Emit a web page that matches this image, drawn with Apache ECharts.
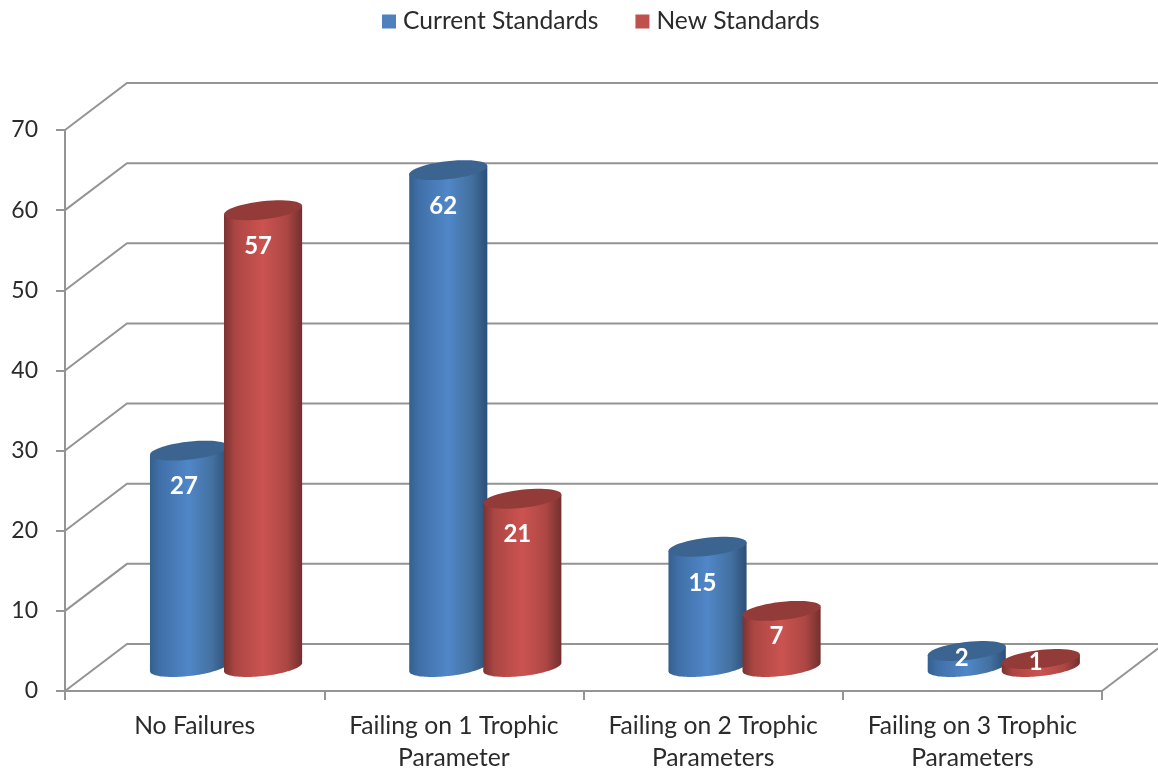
<!DOCTYPE html>
<html>
<head>
<meta charset="utf-8">
<style>html,body{margin:0;padding:0;background:#fff}#chart{width:1158px;height:768px}</style>
<script src="https://cdn.jsdelivr.net/npm/echarts@6/dist/echarts.min.js"></script>
</head>
<body>
<div id="chart"></div>
<script>
// Trophic parameter failures under the current and the new standards.
const categories = [
  'No Failures',
  'Failing on 1 Trophic\nParameter',
  'Failing on 2 Trophic\nParameters',
  'Failing on 3 Trophic\nParameters'
];
const currentStandards = [27, 62, 15, 2];
const newStandards = [57, 21, 7, 1];
const valueTicks = [0, 10, 20, 30, 40, 50, 60, 70];

const FONT = 'Lato, "Open Sans", sans-serif';
const TEXT = '#2b2b2b';
const WALL = '#949494';

// Oblique projection of the chart box.
const WALL_DX = 62, WALL_DY = -47;
const BAR_DY = -24;

// Cylinder footprint: a slightly tilted ellipse.
const RX = 39.3, RY = 9, TILT = -6.5 * Math.PI / 180;

function ellipsePoint(cx, cy, t) {
  const ex = RX * Math.cos(t), ey = RY * Math.sin(t);
  return [cx + ex * Math.cos(TILT) - ey * Math.sin(TILT),
          cy + ex * Math.sin(TILT) + ey * Math.cos(TILT)];
}

function ellipseArc(cx, cy, from, to) {
  const pts = [];
  for (let i = 0; i <= 48; i++) pts.push(ellipsePoint(cx, cy, from + (to - from) * i / 48));
  return pts;
}

function shaded(stops) {
  return new echarts.graphic.LinearGradient(0, 0, 1, 0,
    stops.map(s => ({ offset: s[0], color: s[1] })));
}

// Parameter angle of the ellipse's rightmost point.
const T_EDGE = Math.atan2(-RY * Math.sin(TILT), RX * Math.cos(TILT));

function cylinderSeries(name, values, slot, bodyStops, topColor, swatch) {
  return {
    type: 'custom',
    name: name,
    coordinateSystem: 'cartesian2d',
    itemStyle: { color: swatch },
    data: values.map((v, i) => [i, v]),
    encode: { x: 0, y: 1 },
    clip: false,
    z: 3,
    renderItem: function (params, api) {
      const pos = api.coord([api.value(0), api.value(1)]);
      const zero = api.coord([api.value(0), 0]);
      const band = api.size([1, 0])[0];
      const cx = pos[0] + band * slot;
      const topY = pos[1] + BAR_DY, baseY = zero[1] + BAR_DY;
      const h = baseY - topY;
      // Silhouette: lower half of the base, then straight up to the top rim.
      const lower = ellipseArc(cx, baseY, T_EDGE, T_EDGE + Math.PI);
      const body = lower.concat([ellipsePoint(cx, topY, T_EDGE + Math.PI), ellipsePoint(cx, topY, T_EDGE)]);
      return {
        type: 'group',
        children: [
          { type: 'polygon', shape: { points: body }, style: { fill: shaded(bodyStops) } },
          { type: 'polygon', shape: { points: ellipseArc(cx, topY, 0, Math.PI * 2) }, style: { fill: topColor } },
          {
            type: 'text',
            style: {
              x: cx - 5, y: topY + Math.min(36, h * 0.45),
              text: String(api.value(1)),
              fill: '#ffffff',
              font: 'bold 24px ' + FONT,
              align: 'center', verticalAlign: 'middle'
            }
          }
        ]
      };
    }
  };
}

const wallSeries = {
  type: 'custom',
  name: 'walls',
  coordinateSystem: 'cartesian2d',
  data: valueTicks.map(t => [0, t]),
  encode: { x: 0, y: 1 },
  clip: false,
  silent: true,
  z: 1,
  renderItem: function (params, api) {
    const y = api.coord([0, api.value(1)])[1];
    const left = params.coordSys.x, right = left + params.coordSys.width;
    const children = [{
      type: 'polyline',
      shape: { points: [[left, y], [left + WALL_DX, y + WALL_DY], [1158, y + WALL_DY]] },
      style: { stroke: WALL, lineWidth: 2, fill: null }
    }];
    if (api.value(1) === 0) {
      children.push({
        type: 'line',
        shape: { x1: right, y1: y, x2: right + WALL_DX, y2: y + WALL_DY },
        style: { stroke: WALL, lineWidth: 2 }
      });
    }
    return { type: 'group', children: children };
  }
};

const chart = echarts.init(document.getElementById('chart'), null, { renderer: 'canvas' });
chart.setOption({
  animation: false,
  backgroundColor: '#ffffff',
  grid: { left: 65, right: 56, top: 130, bottom: 77, containLabel: false, outerBoundsMode: 'none' },
  legend: {
    data: ['Current Standards', 'New Standards'],
    left: 382, top: 9, padding: 0,
    icon: 'rect',
    itemWidth: 14, itemHeight: 14, itemGap: 37,
    selectedMode: false,
    textStyle: { fontFamily: FONT, fontSize: 24.6, color: TEXT, padding: [0, 0, 0, 2] }
  },
  xAxis: {
    type: 'category',
    data: categories,
    axisLine: { lineStyle: { color: WALL, width: 2 } },
    axisTick: { show: true, length: 9, lineStyle: { color: WALL, width: 2 } },
    axisLabel: { fontFamily: FONT, fontSize: 24.7, color: TEXT, lineHeight: 32, margin: 19, interval: 0 }
  },
  yAxis: {
    type: 'value',
    min: 0, max: 70, interval: 10,
    axisLine: { show: true, lineStyle: { color: WALL, width: 2 } },
    axisTick: { show: true, length: 9, lineStyle: { color: WALL, width: 2 } },
    axisLabel: { fontFamily: FONT, fontSize: 23, color: TEXT, margin: 27, lineHeight: 28, padding: [6, 0, 0, 0] },
    splitLine: { show: false }
  },
  series: [
    wallSeries,
    cylinderSeries('Current Standards', currentStandards, -0.0216,
      [[0, '#34608f'], [0.12, '#406fa7'], [0.5, '#5087c8'], [0.8, '#43709f'], [1, '#2c4f77']],
      '#3c6491', '#4f81bd'),
    cylinderSeries('New Standards', newStandards, 0.264,
      [[0, '#7a3331'], [0.14, '#ab4643'], [0.5, '#cb5350'], [0.8, '#ad4744'], [1, '#72302e']],
      '#923b39', '#c0504d')
  ]
});
</script>
</body>
</html>
